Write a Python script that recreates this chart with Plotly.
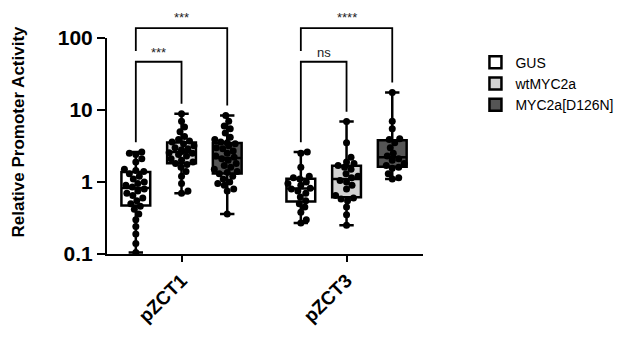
import numpy as np
import plotly.graph_objects as go

# ---- data ----
promoters = ["pZCT1", "pZCT3"]
series = ["GUS", "wtMYC2a", "MYC2a[D126N]"]

gus_zct1 = [2.6, 2.5, 2.4, 2.1, 1.9, 1.5, 1.45, 1.4, 1.3, 1.2, 1.1, 1.0, 0.95, 0.9, 0.85,
            0.8, 0.75, 0.7, 0.65, 0.6, 0.55, 0.5, 0.46, 0.42, 0.36, 0.3, 0.24, 0.19, 0.14, 0.105]
wt_zct1 = [0.7, 0.75, 0.95, 1.2, 1.4, 1.6, 1.75, 1.8, 1.9, 2.0, 2.1, 2.3, 2.4, 2.5, 2.55,
           2.65, 2.7, 2.8, 2.9, 3.0, 3.2, 3.4, 3.6, 3.7, 3.9, 4.3, 5.0, 5.8, 7.0, 8.9]
mut_zct1 = [0.36, 0.75, 0.8, 0.9, 0.95, 1.0, 1.1, 1.2, 1.3, 1.35, 1.4, 1.5, 1.6, 1.7, 1.8,
            2.0, 2.1, 2.2, 2.3, 2.5, 2.7, 2.9, 3.0, 3.2, 3.4, 3.5, 3.6, 3.9, 4.2, 4.8, 5.5,
            6.0, 7.0, 8.4]
gus_zct3 = [0.27, 0.3, 0.38, 0.45, 0.5, 0.55, 0.62, 0.7, 0.75, 0.8, 0.82, 0.9, 0.95, 1.0,
            1.1, 1.15, 1.2, 1.6, 2.5, 2.6]
wt_zct3 = [0.25, 0.35, 0.45, 0.55, 0.58, 0.6, 0.65, 0.8, 0.9, 1.0, 1.05, 1.15, 1.2, 1.3,
           1.5, 1.6, 1.7, 1.8, 1.9, 2.2, 3.5, 6.9]
mut_zct3 = [1.1, 1.15, 1.3, 1.55, 1.6, 1.7, 1.8, 2.0, 2.1, 2.3, 2.5, 3.0, 3.5, 3.9, 4.0,
            5.5, 7.0, 17.5]

data = {
    "GUS": [gus_zct1, gus_zct3],
    "wtMYC2a": [wt_zct1, wt_zct3],
    "MYC2a[D126N]": [mut_zct1, mut_zct3],
}
sig_labels = [["***", "***"], ["ns", "****"]]  # [inner, outer] per promoter

# ---- styling ----
fills = {"GUS": "#ffffff", "wtMYC2a": "#d2d2d2", "MYC2a[D126N]": "#555555"}
group_centers = [1.0, 4.61]
offsets = [-1.0, 0.0, 1.0]
box_w = 0.63
PPU = 46.0     # pixels per x unit
PPD = 72.67    # pixels per decade
FONT = "Arial, Liberation Sans, sans-serif"


def swarm(vals, center, d=6.4, maxhalf=13.0):
    vals = np.asarray(vals, dtype=float)
    placed = []
    xs = np.zeros(len(vals))
    for i in np.argsort(vals):
        y = np.log10(vals[i]) * PPD
        best = None
        for k in range(0, 40):
            cands = [0.0] if k == 0 else [k * 0.5, -k * 0.5]
            for s in cands:
                if abs(s) > maxhalf:
                    continue
                if all((s - px) ** 2 + (y - py) ** 2 >= d * d for px, py in placed):
                    best = s
                    break
            if best is not None:
                break
        if best is None:
            best = 0.0
        placed.append((best, y))
        xs[i] = center + best / PPU
    return xs


fig = go.Figure()

for si, name in enumerate(series):
    xs, q1s, meds, q3s, los, his = [], [], [], [], [], []
    for gi in range(2):
        v = np.asarray(data[name][gi])
        xs.append(group_centers[gi] + offsets[si])
        q1s.append(float(np.percentile(v, 25)))
        meds.append(float(np.median(v)))
        q3s.append(float(np.percentile(v, 75)))
        los.append(float(v.min()))
        his.append(float(v.max()))
    fig.add_trace(go.Box(
        name=name, x=xs, q1=q1s, median=meds, q3=q3s, lowerfence=los, upperfence=his,
        width=box_w, whiskerwidth=0.5, fillcolor=fills[name],
        line=dict(color="black", width=2.5), boxpoints=False, showlegend=True,
    ))

for si, name in enumerate(series):
    for gi in range(2):
        v = data[name][gi]
        c = group_centers[gi] + offsets[si]
        fig.add_trace(go.Scatter(
            x=swarm(v, c), y=v, mode="markers",
            marker=dict(color="black", size=7, line=dict(width=0)),
            showlegend=False, hoverinfo="y",
        ))

# significance brackets
def ypaper(v):
    return (np.log10(v) + 1) / 3.0

gap = 10 / 218.0
y_inner = 0.89
y_outer = 1.046
shapes = []
annots = []
for gi in range(2):
    xg = group_centers[gi] + offsets[0]
    xw = group_centers[gi] + offsets[1]
    xm = group_centers[gi] + offsets[2]
    top_g = ypaper(max(data["GUS"][gi])) + gap
    top_w = ypaper(max(data["wtMYC2a"][gi])) + gap
    top_m = ypaper(max(data["MYC2a[D126N]"][gi])) + gap
    ln = dict(color="black", width=1.8)
    shapes.append(dict(type="path", xref="x", yref="paper",
                       path=f"M{xg},{top_g} L{xg},{y_inner} L{xw},{y_inner} L{xw},{top_w}",
                       line=ln))
    shapes.append(dict(type="path", xref="x", yref="paper",
                       path=f"M{xg},{y_inner + 0.05} L{xg},{y_outer} L{xm},{y_outer} L{xm},{top_m}",
                       line=ln))
    annots.append(dict(x=(xg + xw) / 2, y=y_inner + 0.045, xref="x", yref="paper",
                       text=sig_labels[gi][0], showarrow=False, yanchor="middle",
                       font=dict(family=FONT, size=13, color="#222")))
    annots.append(dict(x=(xg + xm) / 2, y=y_outer + 0.05, xref="x", yref="paper",
                       text=sig_labels[gi][1], showarrow=False, yanchor="middle",
                       font=dict(family=FONT, size=13, color="#222")))

annots.append(dict(x=-0.28, y=0.565, xref="paper", yref="paper",
                   text="<b>Relative Promoter Activity</b>", textangle=-90,
                   showarrow=False, xanchor="center", yanchor="middle",
                   font=dict(family=FONT, size=17, color="black")))

fig.update_layout(
    width=631, height=339,
    margin=dict(l=107, r=206, t=38, b=83),
    paper_bgcolor="white", plot_bgcolor="white",
    boxmode="overlay",
    shapes=shapes, annotations=annots,
    font=dict(family=FONT, color="black"),
    legend=dict(x=1.166, y=0.96, xanchor="left", yanchor="top",
                font=dict(family=FONT, size=14, color="black"),
                tracegroupgap=0, bgcolor="rgba(0,0,0,0)"),
)
fig.update_xaxes(
    range=[(107 - 136) / PPU, (425 - 136) / PPU],
    tickvals=group_centers, ticktext=[f"<b>{p}</b>" for p in promoters],
    tickangle=-45, ticks="outside", ticklen=6, tickwidth=2, tickcolor="black",
    showline=True, linewidth=2, linecolor="black", showgrid=False, zeroline=False,
    tickfont=dict(family=FONT, size=19, color="black"),
)
fig.update_yaxes(
    type="log", range=[-1, 2],
    tickvals=[0.1, 1, 10, 100], ticktext=["<b>0.1</b>", "<b>1</b>", "<b>10</b>", "<b>100</b>"],
    ticks="outside", ticklen=8, tickwidth=2, tickcolor="black",
    showline=True, linewidth=2, linecolor="black", showgrid=False, zeroline=False,
    tickfont=dict(family=FONT, size=21, color="black"),
)

fig.write_html("out.html")
